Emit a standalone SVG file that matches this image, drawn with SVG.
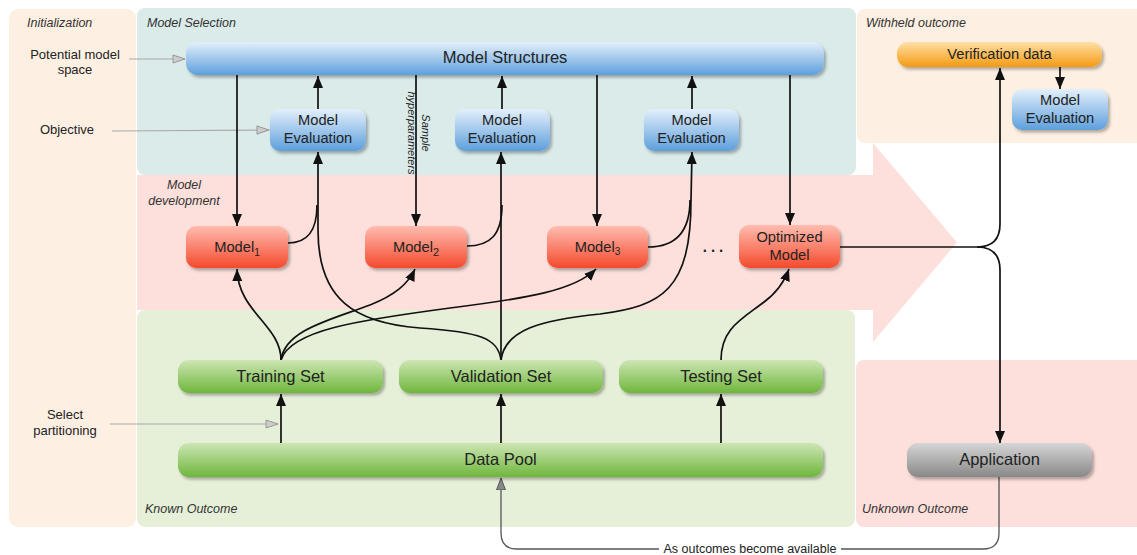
<svg xmlns="http://www.w3.org/2000/svg" width="1137" height="555" viewBox="0 0 1137 555">
<style>
text{font-family:"Liberation Sans",Arial,sans-serif;fill:#222}
.hd{font-style:italic;font-size:12.5px;fill:#333}
.side{font-size:13px;text-anchor:middle}
.n{text-anchor:middle;font-size:14.7px}
.big{text-anchor:middle;font-size:16.5px}
.c{fill:none;stroke:#111;stroke-width:1.7}
.ca{fill:none;stroke:#111;stroke-width:1.7;marker-end:url(#ah)}
.g{fill:none;stroke:#aaa;stroke-width:1.1;marker-end:url(#gh)}
</style>
<defs>
<linearGradient id="blue" x1="0" y1="0" x2="0" y2="1"><stop offset="0" stop-color="#e4f0fb"/><stop offset="1" stop-color="#5d9fdc"/></linearGradient>
<linearGradient id="red" x1="0" y1="0" x2="0" y2="1"><stop offset="0" stop-color="#ffbcaf"/><stop offset="1" stop-color="#f54a2d"/></linearGradient>
<linearGradient id="green" x1="0" y1="0" x2="0" y2="1"><stop offset="0" stop-color="#cde6b3"/><stop offset="1" stop-color="#6fb63c"/></linearGradient>
<linearGradient id="orange" x1="0" y1="0" x2="0" y2="1"><stop offset="0" stop-color="#ffe0a6"/><stop offset="1" stop-color="#f59a12"/></linearGradient>
<linearGradient id="gray" x1="0" y1="0" x2="0" y2="1"><stop offset="0" stop-color="#d6d6d6"/><stop offset="1" stop-color="#888"/></linearGradient>
<filter id="sh" x="-10%" y="-20%" width="125%" height="160%"><feDropShadow dx="2" dy="2.5" stdDeviation="1.8" flood-color="#000" flood-opacity="0.3"/></filter>
<marker id="ah" markerUnits="userSpaceOnUse" markerWidth="14" markerHeight="12" refX="12" refY="5" orient="auto"><path d="M0,0 L12,5 L0,10 Z" fill="#111"/></marker>
<marker id="gh" markerUnits="userSpaceOnUse" markerWidth="16" markerHeight="12" refX="13" refY="5" orient="auto"><path d="M1,1 L13,5 L1,9 Z" fill="#ccc" stroke="#999" stroke-width="1"/></marker>
<marker id="dh" markerUnits="userSpaceOnUse" markerWidth="14" markerHeight="12" refX="12" refY="5" orient="auto"><path d="M0,0.5 L12,5 L0,9.5 Z" fill="#888" stroke="#555" stroke-width="1"/></marker>
</defs>

<g id="panels">
<rect x="9" y="9" width="127" height="518" rx="9" fill="#fdf0e2"/>
<path d="M137,175 L873,175 L873,143 L957,242.5 L873,342 L873,310 L137,310 Z" fill="#fde0db"/>
<rect x="137" y="8" width="719" height="167" rx="8" fill="#daebe9"/>
<rect x="137" y="310" width="718" height="217" rx="8" fill="#e6f0d9"/>
<rect x="857" y="9" width="290" height="134" rx="8" fill="#fdf0e2"/>
<rect x="856" y="360" width="290" height="167" rx="8" fill="#fde0db"/>
<text class="hd" x="27" y="27">Initialization</text>
<text class="hd" x="147" y="27">Model Selection</text>
<text class="hd" x="866" y="27">Withheld outcome</text>
<text class="hd" x="184" y="189" text-anchor="middle">Model</text>
<text class="hd" x="184" y="205" text-anchor="middle">development</text>
<text class="hd" x="145" y="513">Known Outcome</text>
<text class="hd" x="862" y="513">Unknown Outcome</text>
<text class="side" x="75" y="59">Potential model</text>
<text class="side" x="75" y="74">space</text>
<text class="side" x="67" y="134">Objective</text>
<text class="side" x="65" y="419">Select</text>
<text class="side" x="65" y="435">partitioning</text>
</g>

<g id="connectors">
<path class="g" d="M129,59 L185,59"/>
<path class="g" d="M112,131 L269,130"/>
<path class="g" d="M110,424 L278,424"/>
<path class="ca" d="M237,75 L237,226"/>
<path class="ca" d="M318,109 L318,76"/>
<path class="ca" d="M416,75 L416,226"/>
<path class="ca" d="M502,109 L502,76"/>
<path class="ca" d="M597,75 L597,226"/>
<path class="ca" d="M692,109 L692,76"/>
<path class="ca" d="M790,75 L790,225"/>
<path class="ca" d="M1060,67 L1060,89"/>
<path class="c" d="M288,243 C307,243 317,232 317,205"/>
<path class="c" d="M467,246 C490,246 502,235 502,205"/>
<path class="c" d="M648,247 C676,247 690,232 690,200"/>
<path class="ca" d="M501,360 C498,338 480,332 420,328 C355,323 318,300 318,230 L318,152"/>
<path class="ca" d="M501,360 L501,152"/>
<path class="ca" d="M501,360 C505,330 540,320 600,314 C662,306 691,290 691,200 L692,152"/>
<path class="ca" d="M281,360 C281,325 238,312 237,269"/>
<path class="ca" d="M281,360 C285,330 330,320 370,305 C395,295 408,284 415,269"/>
<path class="ca" d="M281,360 C290,330 360,320 450,308 C530,298 575,290 596,269"/>
<path class="ca" d="M721,360 C721,330 740,320 760,305 C775,295 784,283 789,269"/>
<path class="ca" d="M281,443 L281,394"/>
<path class="ca" d="M501,443 L501,394"/>
<path class="ca" d="M721,443 L721,394"/>
<path class="c" d="M840,247 L977,247"/>
<path class="ca" d="M977,247 Q1000,247 1000,224 L1000,68"/>
<path class="ca" d="M977,247 Q1000,247 1000,270 L1000,443"/>
<path d="M999,477 L999,533 Q999,549 983,549 L517,549 Q501,549 501,533 L501,478" fill="none" stroke="#555" stroke-width="1.3" marker-end="url(#dh)"/>
<rect x="659" y="542" width="182" height="13" fill="#fff"/>
<text x="750" y="553" text-anchor="middle" font-size="12.5">As outcomes become available</text>
<g transform="translate(416,133) rotate(90)">
<text x="0" y="-6" text-anchor="middle" font-size="11" font-style="italic">Sample</text>
<text x="0" y="8" text-anchor="middle" font-size="11" font-style="italic">hyperparameters</text>
</g>
<text x="714" y="252" text-anchor="middle" font-size="22" letter-spacing="2">...</text>
</g>

<g id="model-structures"><rect x="186" y="42" width="638" height="33" rx="12" fill="url(#blue)" filter="url(#sh)"/><text class="big" x="505" y="63" font-size="16">Model Structures</text></g>
<g id="eval1"><rect x="270" y="109" width="96" height="42" rx="10" fill="url(#blue)" filter="url(#sh)"/><text class="n" x="318" y="125">Model</text><text class="n" x="318" y="143">Evaluation</text></g>
<g id="eval2"><rect x="455" y="109" width="95" height="42" rx="10" fill="url(#blue)" filter="url(#sh)"/><text class="n" x="502" y="125">Model</text><text class="n" x="502" y="143">Evaluation</text></g>
<g id="eval3"><rect x="644" y="109" width="95" height="42" rx="10" fill="url(#blue)" filter="url(#sh)"/><text class="n" x="691.5" y="125">Model</text><text class="n" x="691.5" y="143">Evaluation</text></g>
<g id="verification"><rect x="897" y="42" width="205" height="25" rx="11" fill="url(#orange)" filter="url(#sh)"/><text class="n" x="999.5" y="59">Verification data</text></g>
<g id="eval-withheld"><rect x="1012" y="89" width="96" height="41" rx="10" fill="url(#blue)" filter="url(#sh)"/><text class="n" x="1060" y="105">Model</text><text class="n" x="1060" y="123">Evaluation</text></g>
<g id="model1"><rect x="186" y="226" width="102" height="42" rx="10" fill="url(#red)" filter="url(#sh)"/><text class="n" x="237" y="252" font-size="14">Model<tspan font-size="10" dy="4">1</tspan></text></g>
<g id="model2"><rect x="365" y="226" width="102" height="42" rx="10" fill="url(#red)" filter="url(#sh)"/><text class="n" x="416" y="252" font-size="16">Model<tspan font-size="11" dy="4">2</tspan></text></g>
<g id="model3"><rect x="547" y="226" width="101" height="42" rx="10" fill="url(#red)" filter="url(#sh)"/><text class="n" x="597.5" y="252" font-size="14.5">Model<tspan font-size="10" dy="3">3</tspan></text></g>
<g id="optimized"><rect x="739" y="225" width="101" height="43" rx="10" fill="url(#red)" filter="url(#sh)"/><text class="n" x="789.5" y="242">Optimized</text><text class="n" x="789.5" y="260">Model</text></g>
<g id="training"><rect x="178" y="360" width="205" height="33" rx="11" fill="url(#green)" filter="url(#sh)"/><text class="big" x="280.5" y="382">Training Set</text></g>
<g id="validation"><rect x="399" y="360" width="204" height="33" rx="11" fill="url(#green)" filter="url(#sh)"/><text class="big" x="501" y="382">Validation Set</text></g>
<g id="testing"><rect x="619" y="360" width="204" height="33" rx="11" fill="url(#green)" filter="url(#sh)"/><text class="big" x="721" y="382">Testing Set</text></g>
<g id="data-pool"><rect x="178" y="443" width="645" height="34" rx="11" fill="url(#green)" filter="url(#sh)"/><text class="big" x="500.5" y="465">Data Pool</text></g>
<g id="application"><rect x="907" y="443" width="185" height="34" rx="11" fill="url(#gray)" filter="url(#sh)"/><text class="big" x="999.5" y="465">Application</text></g>
</svg>
